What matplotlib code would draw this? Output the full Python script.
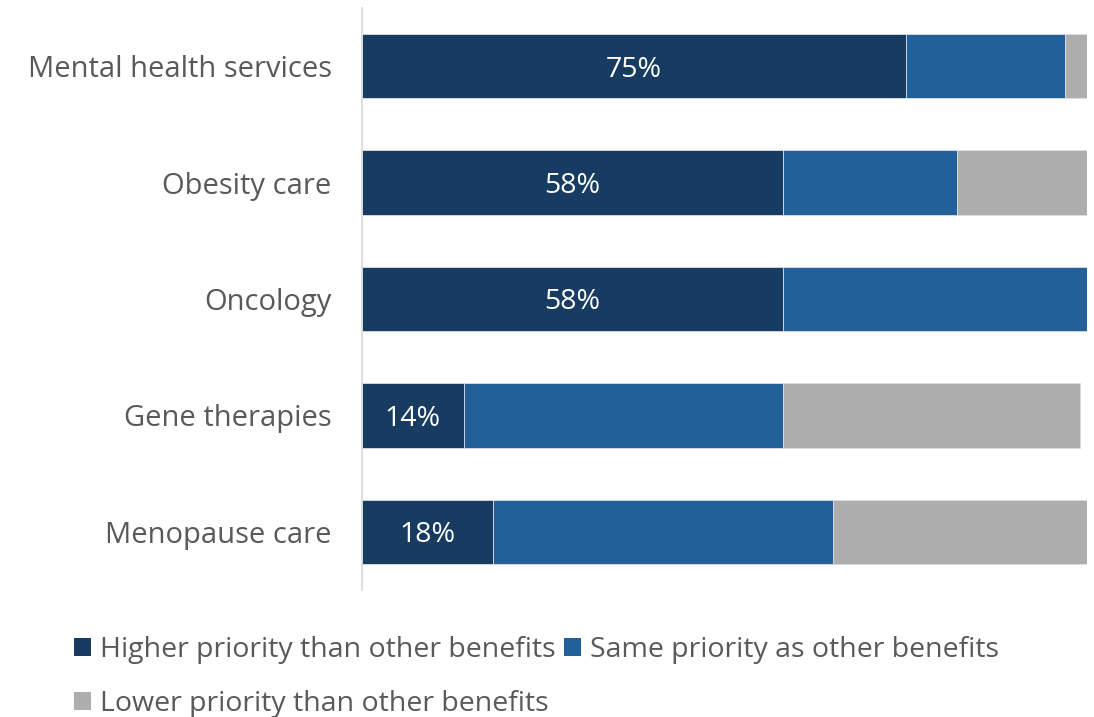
import matplotlib
matplotlib.use("Agg")
import matplotlib.pyplot as plt
from matplotlib.patches import Patch

categories = ["Mental health services", "Obesity care", "Oncology", "Gene therapies", "Menopause care"]
higher = [75, 58, 58, 14, 18]
same = [22, 24, 42, 44, 47]
lower = [3, 18, 0, 41, 35]
series_names = ["Higher priority than other benefits", "Same priority as other benefits",
                "Lower priority than other benefits"]
colors = ["#173B61", "#22609A", "#AEAEAE"]

plt.rcParams['font.family'] = ['Open Sans', 'DejaVu Sans']
text_color = "#595959"
fs = 20.5

fig = plt.figure(figsize=(10.94, 7.17), dpi=100)
ax = fig.add_axes([0.331, 0.177, 0.6626, 0.812])

y = list(range(len(categories)))
left = [0] * len(categories)
for vals, c in zip([higher, same, lower], colors):
    ax.barh(y, vals, left=left, height=0.556, color=c, edgecolor="#D9DEE6", linewidth=0.6)
    left = [l + v for l, v in zip(left, vals)]

for yi, v in zip(y, higher):
    ax.text(v / 2, yi, f"{v}%", ha="center", va="center_baseline", color="white", fontsize=fs)

ax.set_xlim(0, 100)
ax.set_ylim(len(categories) - 0.5, -0.5)
ax.set_yticks(y)
ax.set_yticklabels(categories, fontsize=21, color=text_color)
ax.tick_params(axis="y", length=0, pad=22)
ax.set_xticks([])
for s in ["top", "right", "bottom"]:
    ax.spines[s].set_visible(False)
ax.spines["left"].set_color("#D9D9D9")
ax.spines["left"].set_linewidth(1.2)

handles = [Patch(facecolor=c, edgecolor="none") for c in colors]
order = [0, 2, 1]
leg = fig.legend([handles[i] for i in order], [series_names[i] for i in order],
                 loc="upper left", bbox_to_anchor=(0.068, 0.113),
                 ncol=2, frameon=False, fontsize=fs, handlelength=0.6, handleheight=0.6,
                 handletextpad=0.3, columnspacing=0.3, labelspacing=0.9, borderaxespad=0,
                 borderpad=0)
for t in leg.get_texts():
    t.set_color(text_color)

fig.savefig("out.png", dpi=100)
